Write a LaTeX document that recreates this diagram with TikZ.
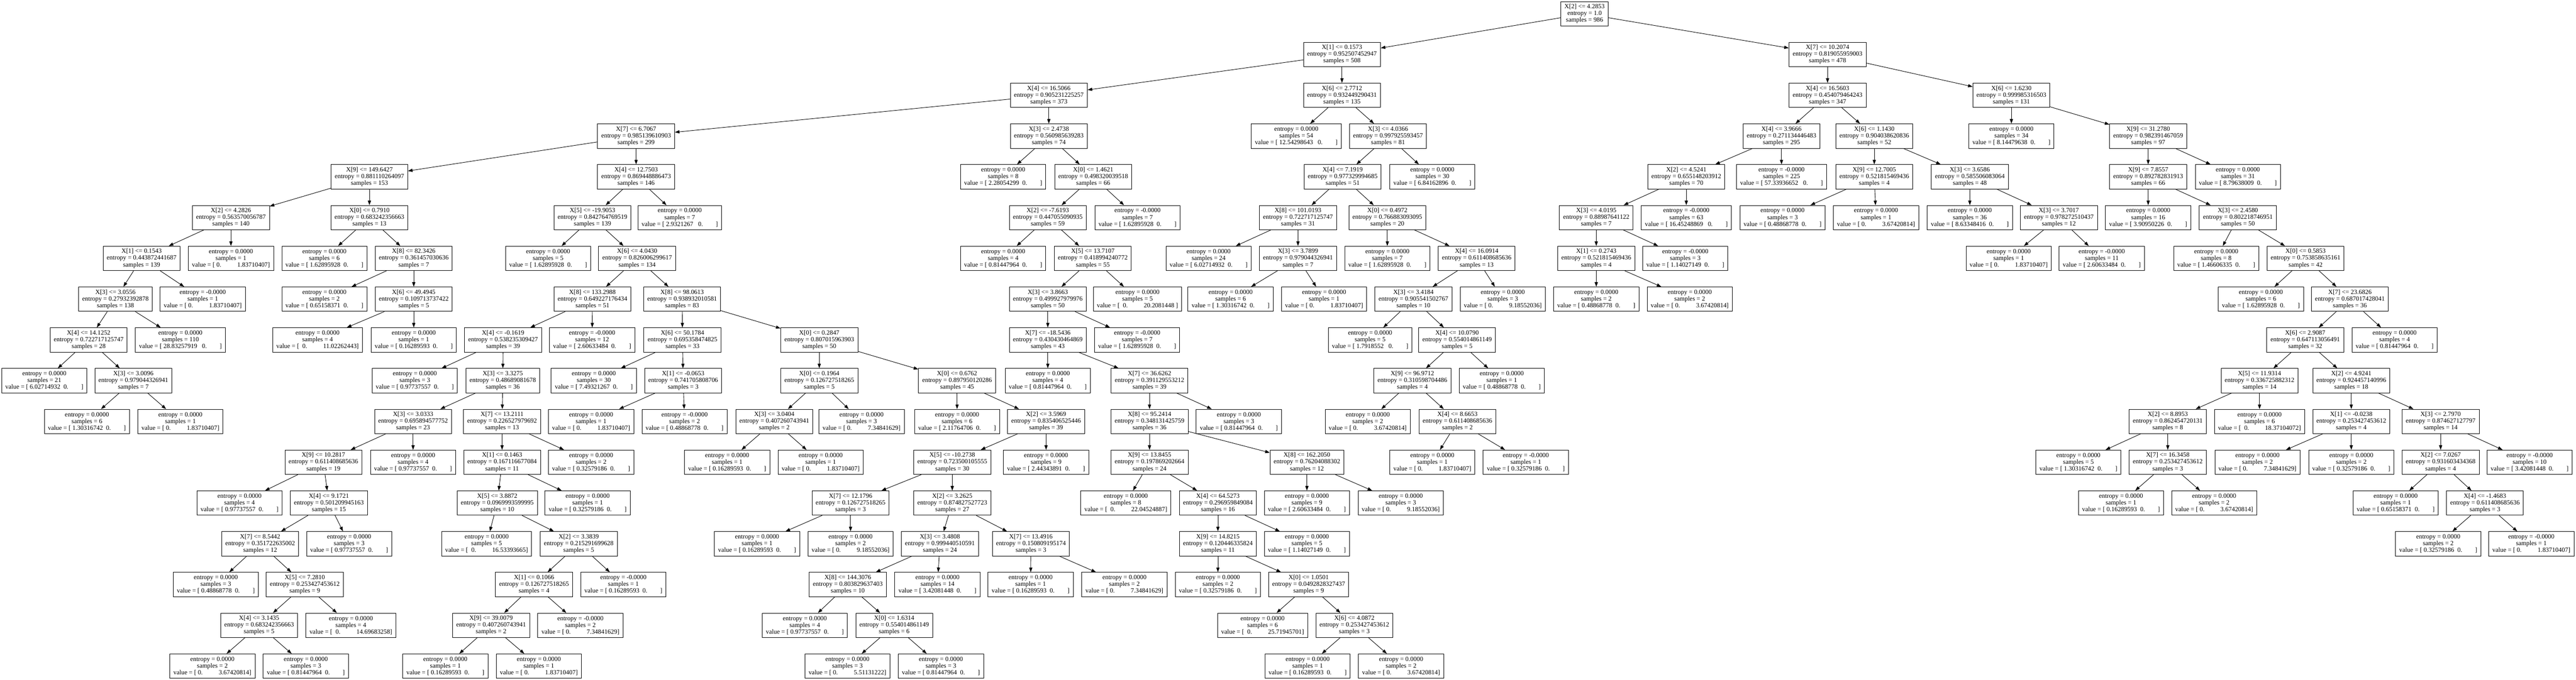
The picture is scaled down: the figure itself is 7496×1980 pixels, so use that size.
\documentclass[tikz,border=0pt]{standalone}
\usepackage{fontspec}
\setmainfont{Liberation Serif}
\usepackage{tikz}
\usetikzlibrary{
    arrows.meta
}

\newcommand{\gap}[1]{\hspace*{#1\fontdimen2\font}}
\newcommand{\decide}[3]{#1\\entropy = #2\\samples = #3}
\newcommand{\leafL}[3]{entropy = #1\\samples = #2\\value = [ #3\gap{2}0.\gap{8}]}
\newcommand{\leafR}[3]{entropy = #1\\samples = #2\\value = [ 0.\gap{10}#3]}
\newcommand{\leafLL}[3]{entropy = #1\\samples = #2\\value = [ #3\gap{3}0.\gap{8}]}
\newcommand{\leafRR}[3]{entropy = #1\\samples = #2\\value = [\gap{2}0.\gap{10}#3]}

\begin{document}
\begin{tikzpicture}[x=0.75pt, y=-0.75pt,
        box/.style={draw, line width=1pt, align=center, inner xsep=8pt, inner ysep=0pt,
            minimum height=53.25pt, font=\fontsize{14}{14.7}\selectfont},
        arr/.style={line width=1pt, -{Triangle[length=10pt, width=7pt]}}]
                        \path[use as bounding box, fill=white] (0, 0) rectangle (7496, 1980);
                        \node[box] (n0) at (4611, 40) {\decide{X[2] <= 4.2853}{1.0}{986}};
                        \node[box] (n1) at (3905, 158.75) {\decide{X[1] <= 0.1573}{0.952507452947}{508}};
                        \node[box] (n2) at (3052, 277.5) {\decide{X[4] <= 16.5066}{0.905231225257}{373}};
                        \node[box] (n3) at (1851, 396.25) {\decide{X[7] <= 6.7067}{0.985139610903}{299}};
                        \node[box] (n4) at (1075, 515) {\decide{X[9] <= 149.6427}{0.881110264097}{153}};
                        \node[box] (n5) at (672, 633.75) {\decide{X[2] <= 4.2826}{0.563570056787}{140}};
                        \node[box] (n6) at (412, 752.5) {\decide{X[1] <= 0.1543}{0.443872441687}{139}};
                        \node[box] (n7) at (336, 871.25) {\decide{X[3] <= 3.0556}{0.27932392878}{138}};
                        \node[box] (n8) at (258, 990) {\decide{X[4] <= 14.1252}{0.722717125747}{28}};
                        \node[box] (n9) at (129, 1108.75) {\leafL{0.0000}{21}{6.02714932}};
                        \node[box] (n10) at (388, 1108.75) {\decide{X[3] <= 3.0096}{0.979044326941}{7}};
                        \node[box] (n11) at (253, 1227.5) {\leafL{0.0000}{6}{1.30316742}};
                        \node[box] (n12) at (525, 1227.5) {\leafR{0.0000}{1}{1.83710407}};
                        \node[box] (n13) at (525, 990) {\leafLL{0.0000}{110}{28.83257919}};
                        \node[box] (n14) at (590, 871.25) {\leafR{-0.0000}{1}{1.83710407}};
                        \node[box] (n15) at (672, 752.5) {\leafR{0.0000}{1}{1.83710407}};
                        \node[box] (n16) at (1075, 633.75) {\decide{X[0] <= 0.7910}{0.683242356663}{13}};
                        \node[box] (n17) at (944, 752.5) {\leafL{0.0000}{6}{1.62895928}};
                        \node[box] (n18) at (1204, 752.5) {\decide{X[8] <= 82.3426}{0.361457030636}{7}};
                        \node[box] (n19) at (944, 871.25) {\leafL{0.0000}{2}{0.65158371}};
                        \node[box] (n20) at (1204, 871.25) {\decide{X[6] <= 49.4945}{0.109713737422}{5}};
                        \node[box] (n21) at (924, 990) {\leafRR{0.0000}{4}{11.02262443}};
                        \node[box] (n22) at (1204, 990) {\leafL{0.0000}{1}{0.16289593}};
                        \node[box] (n23) at (1851, 515) {\decide{X[4] <= 12.7503}{0.869448886473}{146}};
                        \node[box] (n24) at (1724, 633.75) {\decide{X[5] <= -19.9053}{0.842764769519}{139}};
                        \node[box] (n25) at (1595, 752.5) {\leafL{0.0000}{5}{1.62895928}};
                        \node[box] (n26) at (1854, 752.5) {\decide{X[6] <= 4.0430}{0.826006299617}{134}};
                        \node[box] (n27) at (1724, 871.25) {\decide{X[8] <= 133.2988}{0.649227176434}{51}};
                        \node[box] (n28) at (1464, 990) {\decide{X[4] <= -0.1619}{0.538235309427}{39}};
                        \node[box] (n29) at (1207, 1108.75) {\leafL{0.0000}{3}{0.97737557}};
                        \node[box] (n30) at (1463, 1108.75) {\decide{X[3] <= 3.3275}{0.48689081678}{36}};
                        \node[box] (n31) at (1202, 1227.5) {\decide{X[3] <= 3.0333}{0.695894577752}{23}};
                        \node[box] (n32) at (941, 1346.25) {\decide{X[9] <= 10.2817}{0.611408685636}{19}};
                        \node[box] (n33) at (697, 1465) {\leafL{0.0000}{4}{0.97737557}};
                        \node[box] (n34) at (957, 1465) {\decide{X[4] <= 9.1721}{0.501209945163}{15}};
                        \node[box] (n35) at (757, 1583.75) {\decide{X[7] <= 8.5442}{0.351722635002}{12}};
                        \node[box] (n36) at (628, 1702.5) {\leafL{0.0000}{3}{0.48868778}};
                        \node[box] (n37) at (887, 1702.5) {\decide{X[5] <= 7.2810}{0.253427453612}{9}};
                        \node[box] (n38) at (754, 1821.25) {\decide{X[4] <= 3.1435}{0.683242356663}{5}};
                        \node[box] (n39) at (618, 1940) {\leafR{0.0000}{2}{3.67420814}};
                        \node[box] (n40) at (890, 1940) {\leafL{0.0000}{3}{0.81447964}};
                        \node[box] (n41) at (1021, 1821.25) {\leafRR{0.0000}{4}{14.69683258}};
                        \node[box] (n42) at (1016, 1583.75) {\leafL{0.0000}{3}{0.97737557}};
                        \node[box] (n43) at (1202, 1346.25) {\leafL{0.0000}{4}{0.97737557}};
                        \node[box] (n44) at (1461, 1227.5) {\decide{X[7] <= 13.2111}{0.226527979692}{13}};
                        \node[box] (n45) at (1461, 1346.25) {\decide{X[1] <= 0.1463}{0.167116677084}{11}};
                        \node[box] (n46) at (1447, 1465) {\decide{X[5] <= 3.8872}{0.0969993599995}{10}};
                        \node[box] (n47) at (1416, 1583.75) {\leafRR{0.0000}{5}{16.53393665}};
                        \node[box] (n48) at (1684, 1583.75) {\decide{X[2] <= 3.3839}{0.215291699628}{5}};
                        \node[box] (n49) at (1554, 1702.5) {\decide{X[1] <= 0.1066}{0.126727518265}{4}};
                        \node[box] (n50) at (1429, 1821.25) {\decide{X[9] <= 39.0079}{0.407260743941}{2}};
                        \node[box] (n51) at (1296, 1940) {\leafL{0.0000}{1}{0.16289593}};
                        \node[box] (n52) at (1568, 1940) {\leafR{0.0000}{1}{1.83710407}};
                        \node[box] (n53) at (1689, 1821.25) {\leafR{-0.0000}{2}{7.34841629}};
                        \node[box] (n54) at (1814, 1702.5) {\leafL{-0.0000}{1}{0.16289593}};
                        \node[box] (n55) at (1710, 1465) {\leafL{0.0000}{1}{0.32579186}};
                        \node[box] (n56) at (1720, 1346.25) {\leafL{0.0000}{2}{0.32579186}};
                        \node[box] (n57) at (1723, 990) {\leafL{-0.0000}{12}{2.60633484}};
                        \node[box] (n58) at (1985, 871.25) {\decide{X[8] <= 98.0613}{0.938932010581}{83}};
                        \node[box] (n59) at (1986, 990) {\decide{X[6] <= 50.1784}{0.695358474825}{33}};
                        \node[box] (n60) at (1728, 1108.75) {\leafL{0.0000}{30}{7.49321267}};
                        \node[box] (n61) at (1988, 1108.75) {\decide{X[1] <= -0.0653}{0.741705808706}{3}};
                        \node[box] (n62) at (1720, 1227.5) {\leafR{0.0000}{1}{1.83710407}};
                        \node[box] (n63) at (1992, 1227.5) {\leafL{-0.0000}{2}{0.48868778}};
                        \node[box] (n64) at (2384, 990) {\decide{X[0] <= 0.2847}{0.807015963903}{50}};
                        \node[box] (n65) at (2384, 1108.75) {\decide{X[0] <= 0.1964}{0.126727518265}{5}};
                        \node[box] (n66) at (2253, 1227.5) {\decide{X[3] <= 3.0404}{0.407260743941}{2}};
                        \node[box] (n67) at (2116, 1346.25) {\leafL{0.0000}{1}{0.16289593}};
                        \node[box] (n68) at (2388, 1346.25) {\leafR{0.0000}{1}{1.83710407}};
                        \node[box] (n69) at (2507, 1227.5) {\leafR{0.0000}{3}{7.34841629}};
                        \node[box] (n70) at (2785, 1108.75) {\decide{X[0] <= 0.6762}{0.897950120286}{45}};
                        \node[box] (n71) at (2785, 1227.5) {\leafL{0.0000}{6}{2.11764706}};
                        \node[box] (n72) at (3044, 1227.5) {\decide{X[2] <= 3.5969}{0.835406525446}{39}};
                        \node[box] (n73) at (2771, 1346.25) {\decide{X[5] <= -10.2738}{0.723500105555}{30}};
                        \node[box] (n74) at (2475, 1465) {\decide{X[7] <= 12.1796}{0.126727518265}{3}};
                        \node[box] (n75) at (2203, 1583.75) {\leafL{0.0000}{1}{0.16289593}};
                        \node[box] (n76) at (2475, 1583.75) {\leafR{0.0000}{2}{9.18552036}};
                        \node[box] (n77) at (2771, 1465) {\decide{X[2] <= 3.2625}{0.874827527723}{27}};
                        \node[box] (n78) at (2735, 1583.75) {\decide{X[3] <= 3.4808}{0.999440510591}{24}};
                        \node[box] (n79) at (2467, 1702.5) {\decide{X[8] <= 144.3076}{0.803829637403}{10}};
                        \node[box] (n80) at (2342, 1821.25) {\leafL{0.0000}{4}{0.97737557}};
                        \node[box] (n81) at (2602, 1821.25) {\decide{X[0] <= 1.6314}{0.554014861149}{6}};
                        \node[box] (n82) at (2466, 1940) {\leafR{0.0000}{3}{5.51131222}};
                        \node[box] (n83) at (2738, 1940) {\leafL{0.0000}{3}{0.81447964}};
                        \node[box] (n84) at (2728, 1702.5) {\leafL{0.0000}{14}{3.42081448}};
                        \node[box] (n85) at (3000, 1583.75) {\decide{X[7] <= 13.4916}{0.150809195174}{3}};
                        \node[box] (n86) at (2999, 1702.5) {\leafL{0.0000}{1}{0.16289593}};
                        \node[box] (n87) at (3272, 1702.5) {\leafR{0.0000}{2}{7.34841629}};
                        \node[box] (n88) at (3044, 1346.25) {\leafL{0.0000}{9}{2.44343891}};
                        \node[box] (n89) at (1978, 633.75) {\leafL{0.0000}{7}{2.9321267\gap{1}}};
                        \node[box] (n90) at (3052, 396.25) {\decide{X[3] <= 2.4738}{0.560985639283}{74}};
                        \node[box] (n91) at (2919, 515) {\leafL{0.0000}{8}{2.28054299}};
                        \node[box] (n92) at (3181, 515) {\decide{X[0] <= 1.4621}{0.498320039518}{66}};
                        \node[box] (n93) at (3049, 633.75) {\decide{X[2] <= -7.6193}{0.447055090935}{59}};
                        \node[box] (n94) at (2919, 752.5) {\leafL{0.0000}{4}{0.81447964}};
                        \node[box] (n95) at (3180, 752.5) {\decide{X[5] <= 13.7107}{0.418994240772}{55}};
                        \node[box] (n96) at (3049, 871.25) {\decide{X[3] <= 3.8663}{0.499927979976}{50}};
                        \node[box] (n97) at (3049, 990) {\decide{X[7] <= -18.5436}{0.430430464869}{43}};
                        \node[box] (n98) at (3049, 1108.75) {\leafL{0.0000}{4}{0.81447964}};
                        \node[box] (n99) at (3345, 1108.75) {\decide{X[7] <= 36.6262}{0.391129553212}{39}};
                        \node[box] (n100) at (3345, 1227.5) {\decide{X[8] <= 95.2414}{0.348131425759}{36}};
                        \node[box] (n101) at (3345, 1346.25) {\decide{X[9] <= 13.8455}{0.197869202664}{24}};
                        \node[box] (n102) at (3276, 1465) {\leafRR{0.0000}{8}{22.04524887}};
                        \node[box] (n103) at (3544, 1465) {\decide{X[4] <= 64.5273}{0.296959849084}{16}};
                        \node[box] (n104) at (3544, 1583.75) {\decide{X[9] <= 14.8215}{0.120446335824}{11}};
                        \node[box] (n105) at (3544, 1702.5) {\leafL{0.0000}{2}{0.32579186}};
                        \node[box] (n106) at (3808, 1702.5) {\decide{X[0] <= 1.0501}{0.0492828327437}{9}};
                        \node[box] (n107) at (3674, 1821.25) {\leafRR{0.0000}{6}{25.71945701}};
                        \node[box] (n108) at (3941, 1821.25) {\decide{X[6] <= 4.0872}{0.253427453612}{3}};
                        \node[box] (n109) at (3805, 1940) {\leafL{0.0000}{1}{0.16289593}};
                        \node[box] (n110) at (4077, 1940) {\leafR{0.0000}{2}{3.67420814}};
                        \node[box] (n111) at (3803, 1583.75) {\leafL{0.0000}{5}{1.14027149}};
                        \node[box] (n112) at (3803, 1346.25) {\decide{X[8] <= 162.2050}{0.76204088302}{12}};
                        \node[box] (n113) at (3803, 1465) {\leafL{0.0000}{9}{2.60633484}};
                        \node[box] (n114) at (4076, 1465) {\leafR{0.0000}{3}{9.18552036}};
                        \node[box] (n115) at (3605, 1227.5) {\leafL{0.0000}{3}{0.81447964}};
                        \node[box] (n116) at (3309, 990) {\leafL{-0.0000}{7}{1.62895928}};
                        \node[box] (n117) at (3310, 871.25) {\leafRR{0.0000}{5}{20.2081448\gap{1}}};
                        \node[box] (n118) at (3310, 633.75) {\leafL{-0.0000}{7}{1.62895928}};
                        \node[box] (n119) at (3905, 277.5) {\decide{X[6] <= 2.7712}{0.932449290431}{135}};
                        \node[box] (n120) at (3772, 396.25) {\leafLL{0.0000}{54}{12.54298643}};
                        \node[box] (n121) at (4039, 396.25) {\decide{X[3] <= 4.0366}{0.997925593457}{81}};
                        \node[box] (n122) at (3907, 515) {\decide{X[4] <= 7.1919}{0.977329994685}{51}};
                        \node[box] (n123) at (3777, 633.75) {\decide{X[8] <= 101.0193}{0.722717125747}{31}};
                        \node[box] (n124) at (3517, 752.5) {\leafL{0.0000}{24}{6.02714932}};
                        \node[box] (n125) at (3777, 752.5) {\decide{X[3] <= 3.7899}{0.979044326941}{7}};
                        \node[box] (n126) at (3581, 871.25) {\leafL{0.0000}{6}{1.30316742}};
                        \node[box] (n127) at (3853, 871.25) {\leafR{0.0000}{1}{1.83710407}};
                        \node[box] (n128) at (4037, 633.75) {\decide{X[0] <= 0.4972}{0.766883093095}{20}};
                        \node[box] (n129) at (4037, 752.5) {\leafL{0.0000}{7}{1.62895928}};
                        \node[box] (n130) at (4297, 752.5) {\decide{X[4] <= 16.0914}{0.611408685636}{13}};
                        \node[box] (n131) at (4113, 871.25) {\decide{X[3] <= 3.4184}{0.905541502767}{10}};
                        \node[box] (n132) at (3987, 990) {\leafL{0.0000}{5}{1.7918552\gap{1}}};
                        \node[box] (n133) at (4240, 990) {\decide{X[4] <= 10.0790}{0.554014861149}{5}};
                        \node[box] (n134) at (4110, 1108.75) {\decide{X[9] <= 96.9712}{0.310598704486}{4}};
                        \node[box] (n135) at (3980, 1227.5) {\leafR{0.0000}{2}{3.67420814}};
                        \node[box] (n136) at (4241, 1227.5) {\decide{X[4] <= 8.6653}{0.611408685636}{2}};
                        \node[box] (n137) at (4168, 1346.25) {\leafR{0.0000}{1}{1.83710407}};
                        \node[box] (n138) at (4440, 1346.25) {\leafL{-0.0000}{1}{0.32579186}};
                        \node[box] (n139) at (4370, 1108.75) {\leafL{0.0000}{1}{0.48868778}};
                        \node[box] (n140) at (4373, 871.25) {\leafR{0.0000}{3}{9.18552036}};
                        \node[box] (n141) at (4168, 515) {\leafL{0.0000}{30}{6.84162896}};
                        \node[box] (n142) at (5318, 158.75) {\decide{X[7] <= 10.2074}{0.819055959003}{478}};
                        \node[box] (n143) at (5318, 277.5) {\decide{X[4] <= 16.5603}{0.454079464243}{347}};
                        \node[box] (n144) at (5184, 396.25) {\decide{X[4] <= 3.9666}{0.271134446483}{295}};
                        \node[box] (n145) at (4907, 515) {\decide{X[2] <= 4.5241}{0.655148203912}{70}};
                        \node[box] (n146) at (4645, 633.75) {\decide{X[3] <= 4.0195}{0.88987641122}{7}};
                        \node[box] (n147) at (4645, 752.5) {\decide{X[1] <= 0.2743}{0.521815469436}{4}};
                        \node[box] (n148) at (4645, 871.25) {\leafL{0.0000}{2}{0.48868778}};
                        \node[box] (n149) at (4917, 871.25) {\leafR{0.0000}{2}{3.67420814}};
                        \node[box] (n150) at (4904, 752.5) {\leafL{-0.0000}{3}{1.14027149}};
                        \node[box] (n151) at (4907, 633.75) {\leafLL{-0.0000}{63}{16.45248869}};
                        \node[box] (n152) at (5184, 515) {\leafLL{-0.0000}{225}{57.33936652}};
                        \node[box] (n153) at (5454, 396.25) {\decide{X[6] <= 1.1430}{0.904038620836}{52}};
                        \node[box] (n154) at (5454, 515) {\decide{X[9] <= 12.7005}{0.521815469436}{4}};
                        \node[box] (n155) at (5187, 633.75) {\leafL{0.0000}{3}{0.48868778}};
                        \node[box] (n156) at (5459, 633.75) {\leafR{0.0000}{1}{3.67420814}};
                        \node[box] (n157) at (5732, 515) {\decide{X[3] <= 3.6586}{0.585506083064}{48}};
                        \node[box] (n158) at (5732, 633.75) {\leafL{0.0000}{36}{8.63348416}};
                        \node[box] (n159) at (5991, 633.75) {\decide{X[3] <= 3.7017}{0.978272510437}{12}};
                        \node[box] (n160) at (5845, 752.5) {\leafR{0.0000}{1}{1.83710407}};
                        \node[box] (n161) at (6116, 752.5) {\leafL{-0.0000}{11}{2.60633484}};
                        \node[box] (n162) at (5853, 277.5) {\decide{X[6] <= 1.6230}{0.999985316503}{131}};
                        \node[box] (n163) at (5853, 396.25) {\leafL{0.0000}{34}{8.14479638}};
                        \node[box] (n164) at (6251, 396.25) {\decide{X[9] <= 31.2780}{0.982391467059}{97}};
                        \node[box] (n165) at (6251, 515) {\decide{X[9] <= 7.8557}{0.892782831913}{66}};
                        \node[box] (n166) at (6251, 633.75) {\leafL{0.0000}{16}{3.90950226}};
                        \node[box] (n167) at (6512, 633.75) {\decide{X[3] <= 2.4580}{0.802218746951}{50}};
                        \node[box] (n168) at (6449, 752.5) {\leafL{0.0000}{8}{1.46606335}};
                        \node[box] (n169) at (6709, 752.5) {\decide{X[0] <= 0.5853}{0.753858635161}{42}};
                        \node[box] (n170) at (6579, 871.25) {\leafL{0.0000}{6}{1.62895928}};
                        \node[box] (n171) at (6838, 871.25) {\decide{X[7] <= 23.6826}{0.687017428041}{36}};
                        \node[box] (n172) at (6708, 990) {\decide{X[6] <= 2.9087}{0.647113056491}{32}};
                        \node[box] (n173) at (6575, 1108.75) {\decide{X[5] <= 11.9314}{0.336725882312}{14}};
                        \node[box] (n174) at (6308, 1227.5) {\decide{X[2] <= 8.8953}{0.862454720131}{8}};
                        \node[box] (n175) at (6048, 1346.25) {\leafL{0.0000}{5}{1.30316742}};
                        \node[box] (n176) at (6308, 1346.25) {\decide{X[7] <= 16.3458}{0.253427453612}{3}};
                        \node[box] (n177) at (6172, 1465) {\leafL{0.0000}{1}{0.16289593}};
                        \node[box] (n178) at (6443, 1465) {\leafR{0.0000}{2}{3.67420814}};
                        \node[box] (n179) at (6575, 1227.5) {\leafRR{0.0000}{6}{18.37104072}};
                        \node[box] (n180) at (6842, 1108.75) {\decide{X[2] <= 4.9241}{0.924457140996}{18}};
                        \node[box] (n181) at (6842, 1227.5) {\decide{X[1] <= -0.0238}{0.253427453612}{4}};
                        \node[box] (n182) at (6569, 1346.25) {\leafR{0.0000}{2}{7.34841629}};
                        \node[box] (n183) at (6842, 1346.25) {\leafL{0.0000}{2}{0.32579186}};
                        \node[box] (n184) at (7102, 1227.5) {\decide{X[3] <= 2.7970}{0.874627127797}{14}};
                        \node[box] (n185) at (7102, 1346.25) {\decide{X[2] <= 7.0267}{0.931603434368}{4}};
                        \node[box] (n186) at (6971, 1465) {\leafL{0.0000}{1}{0.65158371}};
                        \node[box] (n187) at (7231, 1465) {\decide{X[4] <= -1.4683}{0.611408685636}{3}};
                        \node[box] (n188) at (7095, 1583.75) {\leafL{0.0000}{2}{0.32579186}};
                        \node[box] (n189) at (7366, 1583.75) {\leafR{-0.0000}{1}{1.83710407}};
                        \node[box] (n190) at (7361, 1346.25) {\leafL{-0.0000}{10}{3.42081448}};
                        \node[box] (n191) at (6968, 990) {\leafL{0.0000}{4}{0.81447964}};
                        \node[box] (n192) at (6512, 515) {\leafL{0.0000}{31}{8.79638009}};
                        \draw[arr]
                        (n0) edge (n1) (n0) edge (n142)
                        (n1) edge (n2) (n1) edge (n119)
                        (n2) edge (n3) (n2) edge (n90)
                        (n3) edge (n4) (n3) edge (n23)
                        (n4) edge (n5) (n4) edge (n16)
                        (n5) edge (n6) (n5) edge (n15)
                        (n6) edge (n7) (n6) edge (n14)
                        (n7) edge (n8) (n7) edge (n13)
                        (n8) edge (n9) (n8) edge (n10)
                        (n10) edge (n11) (n10) edge (n12)
                        (n16) edge (n17) (n16) edge (n18)
                        (n18) edge (n19) (n18) edge (n20)
                        (n20) edge (n21) (n20) edge (n22)
                        (n23) edge (n24) (n23) edge (n89)
                        (n24) edge (n25) (n24) edge (n26)
                        (n26) edge (n27) (n26) edge (n58)
                        (n27) edge (n28) (n27) edge (n57)
                        (n28) edge (n29) (n28) edge (n30)
                        (n30) edge (n31) (n30) edge (n44)
                        (n31) edge (n32) (n31) edge (n43)
                        (n32) edge (n33) (n32) edge (n34)
                        (n34) edge (n35) (n34) edge (n42)
                        (n35) edge (n36) (n35) edge (n37)
                        (n37) edge (n38) (n37) edge (n41)
                        (n38) edge (n39) (n38) edge (n40)
                        (n44) edge (n45) (n44) edge (n56)
                        (n45) edge (n46) (n45) edge (n55)
                        (n46) edge (n47) (n46) edge (n48)
                        (n48) edge (n49) (n48) edge (n54)
                        (n49) edge (n50) (n49) edge (n53)
                        (n50) edge (n51) (n50) edge (n52)
                        (n58) edge (n59) (n58) edge (n64)
                        (n59) edge (n60) (n59) edge (n61)
                        (n61) edge (n62) (n61) edge (n63)
                        (n64) edge (n65) (n64) edge (n70)
                        (n65) edge (n66) (n65) edge (n69)
                        (n66) edge (n67) (n66) edge (n68)
                        (n70) edge (n71) (n70) edge (n72)
                        (n72) edge (n73) (n72) edge (n88)
                        (n73) edge (n74) (n73) edge (n77)
                        (n74) edge (n75) (n74) edge (n76)
                        (n77) edge (n78) (n77) edge (n85)
                        (n78) edge (n79) (n78) edge (n84)
                        (n79) edge (n80) (n79) edge (n81)
                        (n81) edge (n82) (n81) edge (n83)
                        (n85) edge (n86) (n85) edge (n87)
                        (n90) edge (n91) (n90) edge (n92)
                        (n92) edge (n93) (n92) edge (n118)
                        (n93) edge (n94) (n93) edge (n95)
                        (n95) edge (n96) (n95) edge (n117)
                        (n96) edge (n97) (n96) edge (n116)
                        (n97) edge (n98) (n97) edge (n99)
                        (n99) edge (n100) (n99) edge (n115)
                        (n100) edge (n101) (n100) edge (n112)
                        (n101) edge (n102) (n101) edge (n103)
                        (n103) edge (n104) (n103) edge (n111)
                        (n104) edge (n105) (n104) edge (n106)
                        (n106) edge (n107) (n106) edge (n108)
                        (n108) edge (n109) (n108) edge (n110)
                        (n112) edge (n113) (n112) edge (n114)
                        (n119) edge (n120) (n119) edge (n121)
                        (n121) edge (n122) (n121) edge (n141)
                        (n122) edge (n123) (n122) edge (n128)
                        (n123) edge (n124) (n123) edge (n125)
                        (n125) edge (n126) (n125) edge (n127)
                        (n128) edge (n129) (n128) edge (n130)
                        (n130) edge (n131) (n130) edge (n140)
                        (n131) edge (n132) (n131) edge (n133)
                        (n133) edge (n134) (n133) edge (n139)
                        (n134) edge (n135) (n134) edge (n136)
                        (n136) edge (n137) (n136) edge (n138)
                        (n142) edge (n143) (n142) edge (n162)
                        (n143) edge (n144) (n143) edge (n153)
                        (n144) edge (n145) (n144) edge (n152)
                        (n145) edge (n146) (n145) edge (n151)
                        (n146) edge (n147) (n146) edge (n150)
                        (n147) edge (n148) (n147) edge (n149)
                        (n153) edge (n154) (n153) edge (n157)
                        (n154) edge (n155) (n154) edge (n156)
                        (n157) edge (n158) (n157) edge (n159)
                        (n159) edge (n160) (n159) edge (n161)
                        (n162) edge (n163) (n162) edge (n164)
                        (n164) edge (n165) (n164) edge (n192)
                        (n165) edge (n166) (n165) edge (n167)
                        (n167) edge (n168) (n167) edge (n169)
                        (n169) edge (n170) (n169) edge (n171)
                        (n171) edge (n172) (n171) edge (n191)
                        (n172) edge (n173) (n172) edge (n180)
                        (n173) edge (n174) (n173) edge (n179)
                        (n174) edge (n175) (n174) edge (n176)
                        (n176) edge (n177) (n176) edge (n178)
                        (n180) edge (n181) (n180) edge (n184)
                        (n181) edge (n182) (n181) edge (n183)
                        (n184) edge (n185) (n184) edge (n190)
                        (n185) edge (n186) (n185) edge (n187)
                        (n187) edge (n188) (n187) edge (n189);
                    \end{tikzpicture}
\end{document}
